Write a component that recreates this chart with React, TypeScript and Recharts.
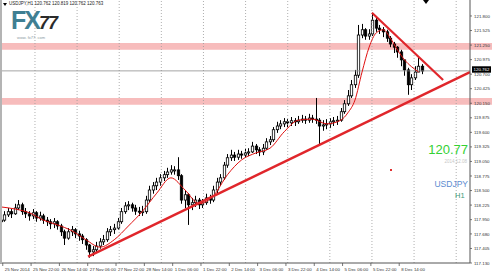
import React from 'react';
import { ComposedChart, Bar, Line, XAxis, YAxis, ReferenceLine, ReferenceArea } from 'recharts';

// USDJPY H1 candles (2-hour buckets)
const firstOpen = 117.91;

const closes = [
  117.94, 118.04, 118.10, 118.06, 118.17, 118.23, 118.10, 118.06, 118.02, 118.08,
  117.98, 118.02, 117.94, 117.91, 117.87, 117.91, 117.83, 117.72, 117.60, 117.72,
  117.76, 117.68, 117.64, 117.57, 117.47, 117.34, 117.38, 117.45, 117.53, 117.57,
  117.72, 117.76, 117.79, 117.91, 118.10, 118.21, 118.23, 118.17, 118.11, 118.10,
  118.10, 118.32, 118.51, 118.59, 118.66, 118.74, 118.80, 118.85, 118.89, 118.89,
  118.78, 118.32, 118.42, 118.23, 118.27, 118.32, 118.23, 118.27, 118.36, 118.32,
  118.51, 118.66, 118.74, 118.98, 119.12, 119.17, 119.13, 119.19, 119.17, 119.21,
  119.23, 119.34, 119.27, 119.23, 119.30, 119.42, 119.46, 119.65, 119.72, 119.76,
  119.80, 119.78, 119.82, 119.80, 119.83, 119.85, 119.83, 119.87, 119.85, 119.83,
  119.72, 119.74, 119.76, 119.80, 119.82, 119.83, 119.99, 120.14, 120.29, 120.50,
  120.68, 121.44, 121.54, 121.42, 121.46, 121.72, 121.57, 121.54, 121.50, 121.38,
  121.27, 121.21, 121.12, 120.97, 120.78, 120.50, 120.63, 120.74, 120.85, 120.76,
];

const highs = [
  118.08, 118.11, 118.17, 118.15, 118.25, 118.32, 118.27, 118.17, 118.11, 118.15,
  118.11, 118.10, 118.06, 118.00, 117.96, 117.98, 117.94, 117.87, 117.76, 117.79,
  117.83, 117.79, 117.74, 117.68, 117.60, 117.49, 117.45, 117.53, 117.60, 117.66,
  117.79, 117.83, 117.87, 117.98, 118.17, 118.28, 118.30, 118.27, 118.23, 118.19,
  118.21, 118.40, 118.59, 118.66, 118.74, 118.81, 118.87, 118.93, 118.98, 118.96,
  119.13, 118.81, 118.51, 118.45, 118.36, 118.40, 118.36, 118.34, 118.44, 118.42,
  118.59, 118.74, 118.81, 119.04, 119.19, 119.27, 119.23, 119.27, 119.25, 119.29,
  119.30, 119.42, 119.38, 119.32, 119.38, 119.49, 119.53, 119.70, 119.80, 119.83,
  119.87, 119.85, 119.89, 119.87, 119.91, 119.93, 119.91, 119.95, 119.93, 120.25,
  119.87, 119.83, 119.85, 119.87, 119.89, 119.91, 120.06, 120.21, 120.40, 120.59,
  120.78, 121.63, 121.65, 121.57, 121.55, 121.86, 121.78, 121.63, 121.59, 121.54,
  121.42, 121.31, 121.23, 121.16, 120.97, 120.82, 120.70, 120.85, 121.01, 120.89,
];

const lows = [
  117.87, 117.91, 118.00, 117.98, 118.04, 118.13, 118.04, 117.98, 117.93, 117.96,
  117.91, 117.93, 117.87, 117.83, 117.77, 117.79, 117.76, 117.64, 117.47, 117.57,
  117.64, 117.60, 117.55, 117.49, 117.38, 117.23, 117.26, 117.32, 117.40, 117.47,
  117.53, 117.64, 117.68, 117.76, 117.87, 118.06, 118.13, 118.10, 118.04, 118.02,
  118.02, 118.06, 118.28, 118.44, 118.51, 118.59, 118.68, 118.74, 118.80, 118.80,
  118.70, 118.25, 118.17, 117.85, 118.13, 118.19, 118.15, 118.17, 118.23, 118.25,
  118.28, 118.45, 118.59, 118.70, 118.93, 119.06, 119.06, 119.08, 119.10, 119.12,
  119.15, 119.21, 119.19, 119.15, 119.17, 119.27, 119.36, 119.42, 119.59, 119.66,
  119.70, 119.70, 119.72, 119.72, 119.76, 119.78, 119.76, 119.78, 119.78, 119.76,
  119.36, 119.63, 119.66, 119.68, 119.72, 119.74, 119.80, 119.95, 120.10, 120.25,
  120.44, 120.63, 121.38, 121.35, 121.35, 121.42, 121.50, 121.46, 121.40, 121.31,
  121.21, 121.10, 121.01, 120.85, 120.67, 120.31, 120.40, 120.59, 120.74, 120.70,
];

// red moving average, read at every few bars
const maBars = [0, 4, 8, 12, 16, 20, 24, 28, 32, 36, 40, 44, 48, 52, 56, 60, 64, 68, 72, 76, 80, 84, 88, 92, 96, 98, 100, 102, 104, 106, 108, 110, 112, 114, 116, 118];
const maValues = [118.19, 118.15, 118.08, 117.94, 117.85, 117.74, 117.57, 117.43, 117.57, 117.83, 118.11, 118.45, 118.74, 118.51, 118.25, 118.40, 118.80, 119.08, 119.21, 119.30, 119.61, 119.83, 119.85, 119.76, 119.83, 119.97, 120.21, 120.74, 121.21, 121.48, 121.54, 121.38, 121.16, 120.97, 120.84, 120.74];

const timeTicks = [0.5, 8.5, 16.5, 24.5, 32.5, 40.5, 48.5, 56.5, 64.5, 72.5, 80.5, 88.5, 96.5, 104.5, 112.5];
const timeLabels = ['25 Nov 2014', '25 Nov 22:00', '26 Nov 14:00', '27 Nov 06:00', '27 Nov 22:00', '28 Nov 14:00', '1 Dec 06:00', '1 Dec 22:00', '2 Dec 14:00', '3 Dec 06:00', '3 Dec 22:00', '4 Dec 14:00', '5 Dec 06:00', '5 Dec 22:00', '8 Dec 14:00'];
const priceTicks = [121.8, 121.525, 121.25, 120.975, 120.7, 120.425, 120.15, 119.875, 119.6, 119.325, 119.05, 118.775, 118.5, 118.225, 117.95, 117.68, 117.405, 117.13];
const gridBars = [9.6, 21.5, 33.4, 45.3, 57.2, 69.1, 81.0, 92.9, 104.8, 116.7, 128.6];

const supportLine = [{ x: 24.6, y: 117.25 }, { x: 132.5, y: 120.74 }];
const resistanceLine = [{ x: 104.8, y: 121.86 }, { x: 124.9, y: 120.59 }];
const zones = [[121.16, 121.29], [120.12, 120.25]];
const bid = 120.762;

const X_DOMAIN = [-0.28, 132.5];
const Y_DOMAIN = [117.13, 122.102];
const FONT = '"Liberation Sans", Arial, sans-serif';

const data = closes.map((c, i) => {
  const prev = i === 0 ? firstOpen : closes[i - 1];
  const o = Math.min(highs[i], Math.max(lows[i], prev));
  const k = maBars.indexOf(i);
  return { i, o, h: highs[i], l: lows[i], c, range: [lows[i], highs[i]], ma: k >= 0 ? maValues[k] : null };
});

const Candle = (props: any) => {
  const { x, y, width, height, payload } = props;
  if (!payload) return null;
  const { o, h, l, c } = payload;
  const top = height < 0 ? y + height : y;
  const hh = Math.abs(height);
  const k = h === l ? 0 : hh / (h - l);
  const yO = top + (h - o) * k;
  const yC = top + (h - c) * k;
  const cx = Math.round(x + width / 2) + 0.5;
  const bTop = Math.min(yO, yC);
  const bH = Math.max(Math.abs(yO - yC), 1);
  const up = c >= o;
  return (
    <g>
      <line x1={cx} x2={cx} y1={top} y2={top + hh} stroke="#000" strokeWidth={1} />
      <rect x={cx - 1.2} y={bTop} width={2.4} height={bH} fill={up ? '#fff' : '#000'} stroke="#000" strokeWidth={0.8} />
    </g>
  );
};

const TimeTick = (props: any) => {
  const { x, y, payload } = props;
  const idx = timeTicks.indexOf(payload.value);
  return (
    <g>
      <line x1={x} x2={x} y1={y} y2={y + 3} stroke="#555" strokeWidth={0.8} />
      <text x={x + 2} y={y + 7.5} fontSize={4.4} fill="#333" fontFamily={FONT}>{timeLabels[idx]}</text>
    </g>
  );
};

const PriceTick = (props: any) => {
  const { x, y, payload } = props;
  return (
    <g>
      <line x1={x} x2={x + 2} y1={y} y2={y} stroke="#555" strokeWidth={0.8} />
      <text x={x + 4} y={y + 1.6} fontSize={4.4} fill="#333" fontFamily={FONT}>{payload.value.toFixed(3)}</text>
    </g>
  );
};

const BidLabel = (props: any) => {
  const { viewBox } = props;
  if (!viewBox) return null;
  const x = viewBox.x + viewBox.width + 2;
  const y = viewBox.y;
  return (
    <g>
      <rect x={x} y={y - 4.6} width={19} height={6.4} fill="#000" />
      <text x={x + 1.5} y={y + 0.2} fontSize={4.4} fill="#fff" fontFamily={FONT}>{bid.toFixed(3)}</text>
    </g>
  );
};

export default function App() {
  return (
    <div style={{ position: 'absolute', left: 0, top: 0, width: 492, height: 274, background: '#fff', overflow: 'hidden' }}>
      <ComposedChart width={492} height={274} data={data} margin={{ top: 0, right: 0, bottom: 0, left: 0 }}>
        <XAxis
          dataKey="i"
          type="number"
          domain={X_DOMAIN}
          ticks={timeTicks}
          interval={0}
          height={11}
          tickSize={0}
          tickMargin={0}
          tickLine={false}
          tick={<TimeTick />}
          axisLine={{ stroke: '#555' }}
          allowDataOverflow
        />
        <YAxis
          orientation="right"
          domain={Y_DOMAIN}
          ticks={priceTicks}
          interval={0}
          width={22}
          tickSize={0}
          tickMargin={0}
          tickLine={false}
          tick={<PriceTick />}
          axisLine={{ stroke: '#555' }}
          allowDataOverflow
        />
        {zones.map((z, k) => (
          <ReferenceArea key={`z${k}`} x1={X_DOMAIN[0]} x2={138.8} y1={z[0]} y2={z[1]} fill="#f07a7a" fillOpacity={0.5} stroke="none" ifOverflow="visible" />
        ))}
        {gridBars.map((g) => (
          <ReferenceLine key={`g${g}`} x={g} stroke="#9a9a9a" strokeDasharray="1 2" strokeWidth={0.8} />
        ))}
        <ReferenceLine y={bid} stroke="#8c8c8c" strokeWidth={0.8} label={<BidLabel />} />
        <Bar dataKey="range" barSize={3} shape={<Candle />} isAnimationActive={false} />
        <Line dataKey="ma" type="monotone" connectNulls dot={false} stroke="#e01010" strokeWidth={1} isAnimationActive={false} />
        <ReferenceLine segment={supportLine} stroke="#e0262b" strokeWidth={2.4} ifOverflow="visible" />
        <ReferenceLine segment={resistanceLine} stroke="#e0262b" strokeWidth={2.2} ifOverflow="visible" />
      </ComposedChart>

      {/* overlays: window edge, header, logo, labels */}
      <div style={{ position: 'absolute', left: 0, top: 0, width: 2, height: 263, background: '#b4b4b4' }} />
      <div style={{ position: 'absolute', left: 3, top: 3, width: 0, height: 0, borderLeft: '2px solid transparent', borderRight: '2px solid transparent', borderTop: '3px solid #000' }} />
      <div style={{ position: 'absolute', left: 9, top: 1, fontSize: 4.5, fontFamily: FONT, color: '#222', whiteSpace: 'nowrap' }}>
        USDJPY,H1 120.762 120.819 120.762 120.763
      </div>
      <div style={{ position: 'absolute', left: 423, top: 0, width: 0, height: 0, borderLeft: '3px solid transparent', borderRight: '3px solid transparent', borderTop: '4px solid #000' }} />
      <div style={{ position: 'absolute', left: 11, top: 7, height: 26, fontFamily: FONT, whiteSpace: 'nowrap', lineHeight: '26px' }}>
        <span style={{ fontSize: 25, fontWeight: 700, color: '#3f7f93', letterSpacing: -2 }}>FX</span>
        <span style={{ fontSize: 18, fontWeight: 700, color: '#2b2b2b', letterSpacing: -1, fontStyle: 'italic' }}>77</span>
      </div>
      <div style={{ position: 'absolute', left: 17, top: 35, fontSize: 4, lineHeight: '5px', fontFamily: FONT, color: '#8a9aa0', whiteSpace: 'nowrap' }}>
        www. fx77. com
      </div>
      <div style={{ position: 'absolute', right: 24, top: 143, fontSize: 13, fontFamily: FONT, color: '#33d133', lineHeight: 1 }}>120.77</div>
      <div style={{ position: 'absolute', right: 25, top: 160, fontSize: 4.5, fontFamily: FONT, color: '#c8c8c8', lineHeight: 1 }}>2014.12.08</div>
      <div style={{ position: 'absolute', right: 24, top: 180, fontSize: 8.5, fontFamily: FONT, color: '#5b8bd0', lineHeight: 1 }}>USDJPY</div>
      <div style={{ position: 'absolute', left: 455, top: 192, fontSize: 7.5, fontFamily: FONT, color: '#3a9a7a', lineHeight: 1 }}>H1</div>
      <div style={{ position: 'absolute', left: 390, top: 169, width: 2, height: 2, background: '#e03030' }} />
    </div>
  );
}
